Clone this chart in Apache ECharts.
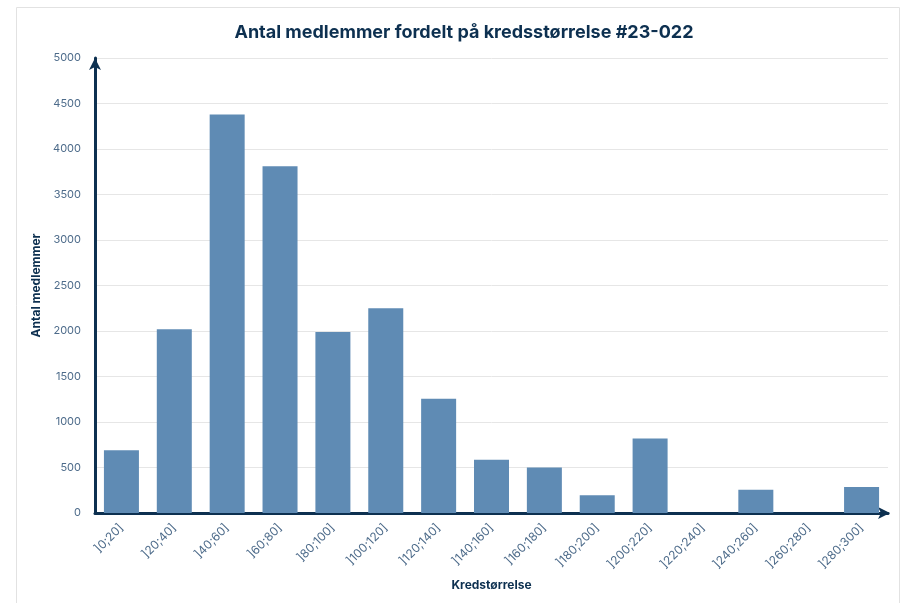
<!DOCTYPE html>
<html>
<head>
<meta charset="utf-8">
<script src="https://cdn.jsdelivr.net/npm/echarts@6/dist/echarts.min.js"></script>
<style>
  html, body { margin: 0; padding: 0; background: #fff; }
  #chart { width: 902px; height: 603px; }
</style>
</head>
<body>
<div id="chart"></div>
<script>
// Data
const categories = [']0;20]', ']20;40]', ']40;60]', ']60;80]', ']80;100]', ']100;120]', ']120;140]',
    ']140;160]', ']160;180]', ']180;200]', ']200;220]', ']220;240]', ']240;260]', ']260;280]', ']280;300]'];
const members = [690, 2020, 4380, 3810, 1990, 2250, 1255, 585, 500, 195, 820, 0, 255, 0, 285];
const yTicks = [0, 500, 1000, 1500, 2000, 2500, 3000, 3500, 4000, 4500, 5000];

const navy = '#0d3050';
const tickColor = '#4d6b8a';
const fontFam = 'Inter, "Noto Sans", sans-serif';

let chart = echarts.init(document.getElementById('chart'));

let option = {
    animation: false,
    backgroundColor: '#fff',
    title: {
        text: 'Antal medlemmer fordelt på kredsstørrelse #23-022',
        left: 459,
        textAlign: 'center',
        top: 19,
        textStyle: { color: navy, fontSize: 18, fontWeight: 'bold', fontFamily: fontFam }
    },
    graphic: [{
        type: 'rect',
        shape: { x: 16.5, y: 7.5, width: 883, height: 620 },
        style: { fill: 'none', stroke: '#e2e2e2', lineWidth: 1 },
        silent: true
    }],
    grid: { left: 95, right: 14, top: 58, bottom: 90 },
    xAxis: {
        type: 'category',
        data: categories,
        name: 'Kredstørrelse',
        nameLocation: 'middle',
        nameGap: 66,
        nameTextStyle: { color: navy, fontSize: 12, fontWeight: 'bold', fontFamily: fontFam },
        axisLine: { lineStyle: { color: navy, width: 3 }, symbol: ['none', 'arrow'], symbolSize: [9, 12], symbolOffset: [0, 2] },
        axisTick: { show: false },
        axisLabel: { rotate: 45, color: tickColor, fontSize: 12, fontFamily: fontFam, margin: 13, interval: 0 }
    },
    yAxis: {
        type: 'value',
        min: yTicks[0],
        max: yTicks[yTicks.length - 1],
        interval: 500,
        name: 'Antal medlemmer',
        nameLocation: 'middle',
        nameGap: 52,
        nameTextStyle: { color: navy, fontSize: 12, fontWeight: 'bold', fontFamily: fontFam },
        axisLine: { show: true, lineStyle: { color: navy, width: 3 }, symbol: ['none', 'arrow'], symbolSize: [9, 12], symbolOffset: [0, 0] },
        axisTick: { show: false },
        axisLabel: { color: tickColor, fontSize: 11, fontFamily: fontFam, margin: 14, formatter: v => String(v) },
        splitLine: { lineStyle: { color: '#e6e6e6', width: 1 } }
    },
    series: [{
        name: 'Antal medlemmer',
        type: 'bar',
        data: members,
        barWidth: 35,
        itemStyle: { color: '#5f8bb4' }
    }]
};

chart.setOption(option);
</script>
</body>
</html>
